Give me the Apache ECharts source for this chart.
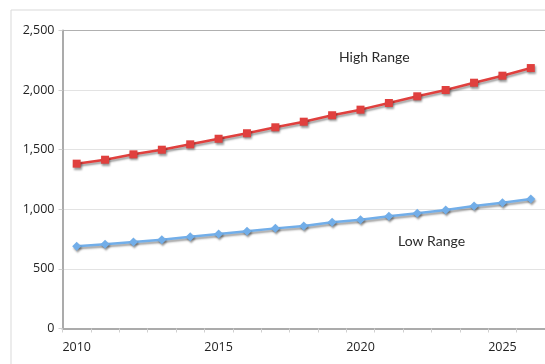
<!DOCTYPE html>
<html>
<head>
<meta charset="utf-8">
<script src="https://cdn.jsdelivr.net/npm/echarts@6/dist/echarts.min.js"></script>
<style>
  html, body { margin: 0; padding: 0; background: #ffffff; }
  #chart { width: 545px; height: 364px; }
</style>
</head>
<body>
<div id="chart"></div>
<script>
// Projection years and the two range series
const years = ['2010','2011','2012','2013','2014','2015','2016','2017','2018',
               '2019','2020','2021','2022','2023','2024','2025','2026'];
const highRange = [1383, 1416, 1461, 1500, 1545, 1592, 1638, 1688, 1735,
                   1789, 1836, 1892, 1948, 2001, 2062, 2121, 2185];
const lowRange  = [690, 706, 726, 745, 770, 793, 815, 840, 860,
                   891, 913, 941, 966, 994, 1028, 1055, 1086];
const yTicks = [0, 500, 1000, 1500, 2000, 2500];

const chart = echarts.init(document.getElementById('chart'), null, { renderer: 'canvas' });

const axisFont = { fontFamily: 'Open Sans', fontSize: 12.5, color: '#222222' };
const shadow = { shadowColor: 'rgba(0,0,0,0.38)', shadowBlur: 2, shadowOffsetX: 1, shadowOffsetY: 2 };

chart.setOption({
  animation: false,
  backgroundColor: '#ffffff',
  grid: { left: 62.5, right: 0, top: 30.5, bottom: 35.5, containLabel: false },
  graphic: [
    {
      type: 'rect', z: -1, silent: true,
      shape: { x: 11, y: 10, width: 560, height: 380 },
      style: { fill: 'none', stroke: '#d9d9d9', lineWidth: 1 }
    },
    {
      type: 'text', left: 339, top: 50, silent: true,
      style: { text: 'High Range', font: '14px Lato', fill: '#2b2b2b' }
    },
    {
      type: 'text', left: 398, top: 234, silent: true,
      style: { text: 'Low Range', font: '14px Lato', fill: '#2b2b2b' }
    }
  ],
  xAxis: {
    type: 'category',
    data: years,
    boundaryGap: true,
    axisLine: { lineStyle: { color: '#ababab', width: 2 } },
    axisTick: { show: true, interval: 0, length: 4, lineStyle: { color: '#d0d0d0' } },
    axisLabel: Object.assign({ interval: 4, margin: 12 }, axisFont),
    splitLine: { show: false }
  },
  yAxis: {
    type: 'value',
    min: yTicks[0],
    max: yTicks[yTicks.length - 1],
    interval: 500,
    axisLine: { show: true, lineStyle: { color: '#ababab', width: 2 } },
    axisTick: { show: true, length: 4, lineStyle: { color: '#d0d0d0' } },
    axisLabel: Object.assign({
      margin: 8,
      formatter: v => v.toLocaleString('en-US')
    }, axisFont),
    splitLine: {
      show: true,
      lineStyle: { color: ['#d9d9d9','#e3e3e3','#e3e3e3','#e3e3e3','#e3e3e3','#b0b0b0'], width: 1 }
    }
  },
  series: [
    {
      name: 'High Range',
      type: 'line',
      data: highRange,
      symbol: 'rect',
      symbolSize: 8,
      lineStyle: Object.assign({ color: '#e0403e', width: 2.5 }, shadow),
      itemStyle: Object.assign({ color: '#e0403e' }, shadow)
    },
    {
      name: 'Low Range',
      type: 'line',
      data: lowRange,
      symbol: 'diamond',
      symbolSize: 9,
      lineStyle: Object.assign({ color: '#72aee9', width: 2.5 }, shadow),
      itemStyle: Object.assign({ color: '#72aee9' }, shadow)
    }
  ]
});
</script>
</body>
</html>
